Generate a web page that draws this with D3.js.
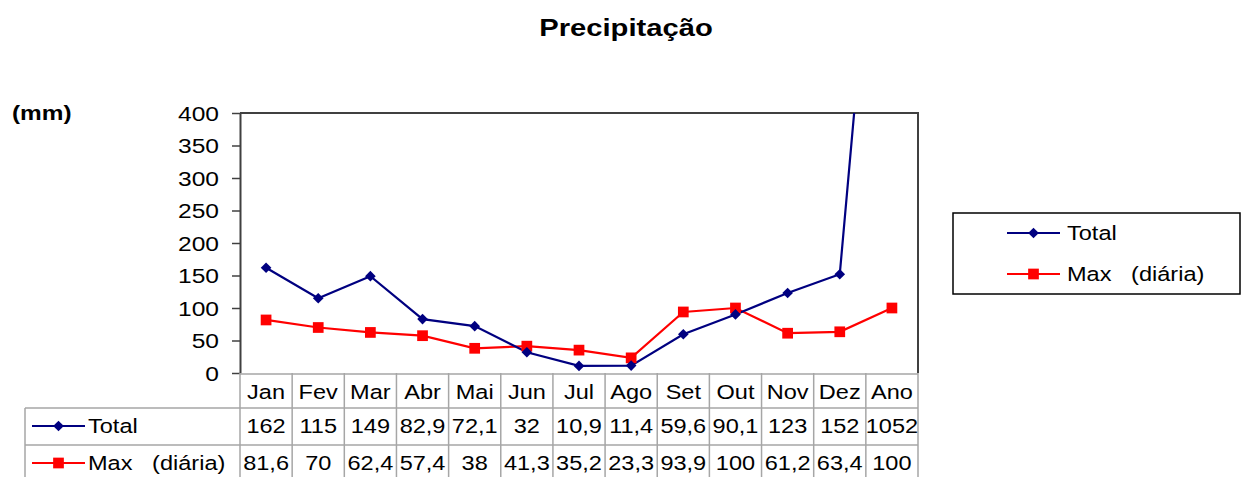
<!DOCTYPE html>
<html><head><meta charset="utf-8">
<script src="https://cdn.jsdelivr.net/npm/d3@7"></script>
<style>
body{margin:0;background:#fff;}
svg{display:block;font-family:"Liberation Sans",Arial,sans-serif;}
text{white-space:pre;}
</style></head>
<body><svg id="c" width="1242" height="477"></svg>
<script>
const categories = ["Jan","Fev","Mar","Abr","Mai","Jun","Jul","Ago","Set","Out","Nov","Dez","Ano"];
const totalValues = [162,115,149,82.9,72.1,32,10.9,11.4,59.6,90.1,123,152,1052];
const maxValues = [81.6,70,62.4,57.4,38,41.3,35.2,23.3,93.9,100,61.2,63.4,100];
const yTicks = [0,50,100,150,200,250,300,350,400];
const seriesNames = ["Total","Max   (diária)"];
const title = "Precipitação";
const unit = "(mm)";

const SX = 1.22, FS = 19.3;
const navy = "#000080", red = "#FF0000", grid = "#a6a6a6";
const svg = d3.select("#c");
const L = 240, R = 918, T = 113, B = 373;
const x = d3.scaleBand().domain(categories).range([L, R]);
const y = d3.scaleLinear().domain([0, 400]).range([B, T]);

function txt(g, s, px, py, anchor, opts={}) {
  return g.append("text").attr("transform", `translate(${px},${py}) scale(${opts.sx||SX},1)`)
    .attr("text-anchor", anchor).attr("font-size", opts.fs||FS)
    .attr("font-weight", opts.bold ? "bold" : "normal").attr("fill", "#000").text(s);
}
const fmt = v => String(v).replace(".", ",");

// title & unit
txt(svg, title, 626, 36, "middle", {fs:23, bold:true, sx:1.27});
txt(svg, unit, 12, 120, "start", {fs:19.5, bold:true, sx:1.25});

// plot frame top/right
svg.append("path").attr("d", `M${L},${T}H${R}V${B}`).attr("fill","none").attr("stroke","#404040").attr("stroke-width",2);

// y axis
const ax = svg.append("g").attr("transform", `translate(${L},0)`).call(d3.axisLeft(y).tickValues(yTicks).tickSize(8).tickSizeOuter(0));
ax.select(".domain").attr("stroke","#404040").attr("stroke-width",2);
ax.selectAll(".tick line").attr("stroke","#404040").attr("stroke-width",1.5);
ax.selectAll(".tick text").attr("x",null).attr("dy",null).attr("font-size",19.5).attr("fill","#000")
  .attr("font-family","Liberation Sans, Arial, sans-serif")
  .attr("transform",`translate(-21,7) scale(1.26,1)`).attr("text-anchor","end");

// data table
const rowY = [B, 408, 445, 482];
const tg = svg.append("g");
tg.selectAll("line.v").data(d3.range(categories.length + 1)).join("line")
  .attr("x1", i => i < categories.length ? x(categories[i]) : R).attr("x2", i => i < categories.length ? x(categories[i]) : R)
  .attr("y1", B).attr("y2", 477).attr("stroke", grid).attr("stroke-width", 1.5);
[rowY[1], rowY[2]].forEach(yy => tg.append("line").attr("x1", 25).attr("x2", R).attr("y1", yy).attr("y2", yy).attr("stroke", grid).attr("stroke-width", 1.5));
tg.append("line").attr("x1",25).attr("x2",25).attr("y1",rowY[1]).attr("y2",477).attr("stroke",grid).attr("stroke-width",1.5);
tg.append("line").attr("x1",L).attr("x2",R).attr("y1",B+1).attr("y2",B+1).attr("stroke",grid).attr("stroke-width",1.5);
categories.forEach(c => txt(tg, c, x(c) + x.bandwidth()/2, 399, "middle"));
totalValues.forEach((v,i) => txt(tg, fmt(v), x(categories[i]) + x.bandwidth()/2, 433, "middle"));
maxValues.forEach((v,i) => txt(tg, fmt(v), x(categories[i]) + x.bandwidth()/2, 470, "middle"));

// markers
const diamond = d3.symbol().type(d3.symbolDiamond2 || d3.symbolDiamond).size(72);
const square = d3.symbol().type(d3.symbolSquare).size(115);
function legendKey(g, x0, x1, yy, color, sym) {
  g.append("line").attr("x1",x0).attr("x2",x1).attr("y1",yy).attr("y2",yy).attr("stroke",color).attr("stroke-width",2.2);
  g.append("path").attr("d", sym()).attr("transform",`translate(${(x0+x1)/2},${yy})`).attr("fill",color);
}
legendKey(tg, 32, 85, 426, navy, diamond);
legendKey(tg, 32, 85, 463, red, square);
txt(tg, seriesNames[0], 88, 433, "start");
txt(tg, seriesNames[1], 88, 470, "start");

// lines
svg.append("clipPath").attr("id","clip").append("rect").attr("x",L).attr("y",T).attr("width",R-L).attr("height",B-T);
const pg = svg.append("g").attr("clip-path","url(#clip)");
const cx = i => x(categories[i]) + x.bandwidth()/2;
const line = d3.line().x((d,i) => cx(i)).y(d => y(d));
pg.append("path").datum(maxValues).attr("d", line).attr("fill","none").attr("stroke",red).attr("stroke-width",2.2);
pg.append("path").datum(totalValues).attr("d", line).attr("fill","none").attr("stroke",navy).attr("stroke-width",2.2);
pg.selectAll("path.mx").data(maxValues).join("path").attr("class","mx").attr("d", square())
  .attr("transform",(d,i)=>`translate(${cx(i)},${y(d)})`).attr("fill",red);
pg.selectAll("path.tt").data(totalValues).join("path").attr("class","tt").attr("d", diamond())
  .attr("transform",(d,i)=>`translate(${cx(i)},${y(d)})`).attr("fill",navy);

// legend
const lg = svg.append("g");
lg.append("rect").attr("x",953).attr("y",213).attr("width",287).attr("height",81).attr("fill","none").attr("stroke","#000").attr("stroke-width",1.5);
legendKey(lg, 1007, 1060, 233, navy, diamond);
legendKey(lg, 1007, 1060, 274, red, square);
txt(lg, seriesNames[0], 1067, 240, "start");
txt(lg, seriesNames[1], 1067, 281, "start");
</script></body></html>
